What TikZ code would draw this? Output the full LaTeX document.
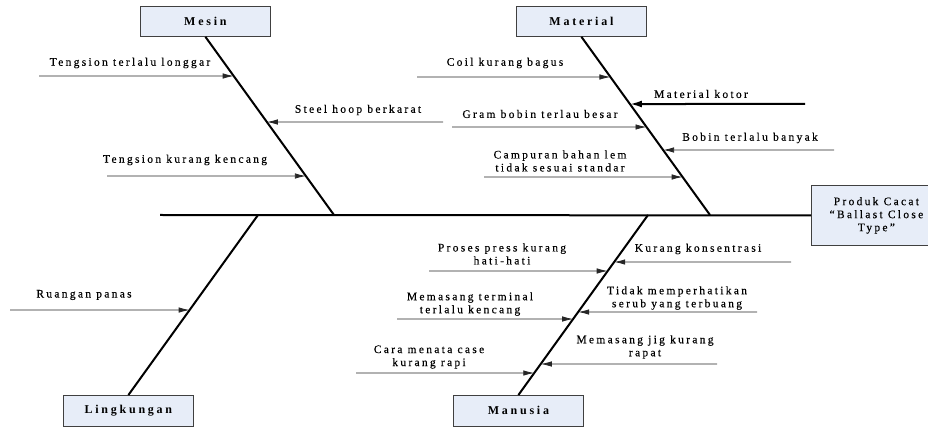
\documentclass[tikz,border=0pt]{standalone}
\usepackage{fontspec}
\setmainfont{Liberation Serif}
\newfontfamily\lblfont[LetterSpace=20,FakeBold=0.3]{Liberation Serif}
\newfontfamily\catfont[LetterSpace=23]{Liberation Serif}
\usetikzlibrary{arrows.meta}
\definecolor{boxfill}{RGB}{231,237,248}
\begin{document}
\begin{tikzpicture}[x=1pt,y=-1pt,
  catbox/.style={draw=black!75, line width=0.8pt, fill=boxfill, minimum width=130pt, minimum height=30pt, inner sep=0pt, anchor=north west, font=\catfont\bfseries\fontsize{12}{14}\selectfont},
  bone/.style={line width=2pt, black},
  cause/.style={line width=0.8pt, black!85, -{Latex[length=11pt,width=5.5pt]}},
  bigcause/.style={line width=2pt, black, -{Latex[length=12pt,width=7pt]}},
  lbl/.style={font=\lblfont\fontsize{11.5}{13}\selectfont, align=center, inner sep=0pt, text=black},
]
\useasboundingbox (0,0) rectangle (928,427);

% category boxes
\node[catbox] (mesin) at (140,6) {Mesin};
\node[catbox] (material) at (516,6) {Material};
\node[catbox, minimum height=31pt] (lingk) at (63,395) {Lingkungan};
\node[catbox, minimum height=31pt] (manusia) at (453,395) {Manusia};
\node[draw=black!75, line width=0.8pt, fill=boxfill, minimum width=130pt, minimum height=60pt, anchor=north west, font=\lblfont\fontsize{11.5}{13}\selectfont, align=center, inner sep=0pt] (produk) at (811,185) {Produk Cacat\\“Ballast Close\\Type”};

% spine and bones
\coordinate (tail) at (160,215);
\coordinate (mesinJ) at (334,215);
\coordinate (materialJ) at (710,215);
\coordinate (lingkJ) at (258,215);
\coordinate (manusiaJ) at (648,215);
\draw[bone] (tail) -- (produk.west);
\draw[bone] (mesin.south) -- (mesinJ);
\draw[bone] (material.south) -- (materialJ);
\draw[bone] (lingk.north) -- (lingkJ);
\draw[bone] (manusia.north) -- (manusiaJ);

% Mesin causes
\node[lbl] (m1) at (130,63) {Tengsion terlalu longgar};
\coordinate (m1s) at (39,76);
\coordinate (m1t) at (intersection of 0,76--10,76 and mesin.south--mesinJ);
\draw[cause] (m1s) -- (m1t);
\node[lbl] (m2) at (358,110) {Steel hoop berkarat};
\coordinate (m2s) at (443,122);
\coordinate (m2t) at (intersection of 0,122--10,122 and mesin.south--mesinJ);
\draw[cause] (m2s) -- (m2t);
\node[lbl] (m3) at (185,160) {Tengsion kurang kencang};
\coordinate (m3s) at (107,176);
\coordinate (m3t) at (intersection of 0,176--10,176 and mesin.south--mesinJ);
\draw[cause] (m3s) -- (m3t);

% Material causes
\node[lbl] (a1) at (505,63) {Coil kurang bagus};
\coordinate (a1s) at (417,77);
\coordinate (a1t) at (intersection of 0,77--10,77 and material.south--materialJ);
\draw[cause] (a1s) -- (a1t);
\node[lbl] (a2) at (701,94) {Material kotor};
\coordinate (a2s) at (805,104);
\coordinate (a2t) at (intersection of 0,104--10,104 and material.south--materialJ);
\draw[bigcause] (a2s) -- (a2t);
\node[lbl] (a3) at (540,114) {Gram bobin terlau besar};
\coordinate (a3s) at (452,127);
\coordinate (a3t) at (intersection of 0,127--10,127 and material.south--materialJ);
\draw[cause] (a3s) -- (a3t);
\node[lbl] (a4) at (750,138) {Bobin terlalu banyak};
\coordinate (a4s) at (834,150);
\coordinate (a4t) at (intersection of 0,150--10,150 and material.south--materialJ);
\draw[cause] (a4s) -- (a4t);
\node[lbl] (a5) at (560,161) {Campuran bahan lem\\tidak sesuai standar};
\coordinate (a5s) at (484,177);
\coordinate (a5t) at (intersection of 0,177--10,177 and material.south--materialJ);
\draw[cause] (a5s) -- (a5t);

% Lingkungan cause
\node[lbl] (l1) at (84,295) {Ruangan panas};
\coordinate (l1s) at (10,310);
\coordinate (l1t) at (intersection of 0,310--10,310 and lingk.north--lingkJ);
\draw[cause] (l1s) -- (l1t);

% Manusia causes
\node[lbl] (h1) at (502,254) {Proses press kurang\\hati-hati};
\coordinate (h1s) at (429,271);
\coordinate (h1t) at (intersection of 0,271--10,271 and manusia.north--manusiaJ);
\draw[cause] (h1s) -- (h1t);
\node[lbl] (h2) at (698,249) {Kurang konsentrasi};
\coordinate (h2s) at (791,262);
\coordinate (h2t) at (intersection of 0,262--10,262 and manusia.north--manusiaJ);
\draw[cause] (h2s) -- (h2t);
\node[lbl] (h3) at (470,304) {Memasang terminal\\terlalu kencang};
\coordinate (h3s) at (397,319);
\coordinate (h3t) at (intersection of 0,319--10,319 and manusia.north--manusiaJ);
\draw[cause] (h3s) -- (h3t);
\node[lbl] (h4) at (677,298) {Tidak memperhatikan\\serub yang terbuang};
\coordinate (h4s) at (757,312);
\coordinate (h4t) at (intersection of 0,312--10,312 and manusia.north--manusiaJ);
\draw[cause] (h4s) -- (h4t);
\node[lbl] (h5) at (645,347) {Memasang jig kurang\\rapat};
\coordinate (h5s) at (717,364);
\coordinate (h5t) at (intersection of 0,364--10,364 and manusia.north--manusiaJ);
\draw[cause] (h5s) -- (h5t);
\node[lbl] (h6) at (429,357) {Cara menata case\\kurang rapi};
\coordinate (h6s) at (356,373);
\coordinate (h6t) at (intersection of 0,373--10,373 and manusia.north--manusiaJ);
\draw[cause] (h6s) -- (h6t);
\end{tikzpicture}
\end{document}
